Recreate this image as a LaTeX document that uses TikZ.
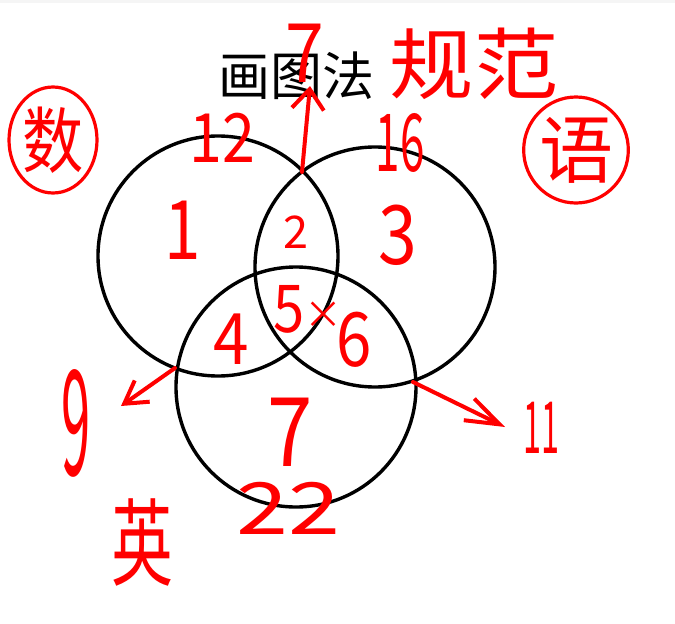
\documentclass[tikz,border=0pt]{standalone}
\usepackage{fontspec}
\usepackage{graphicx}
\setmainfont{Noto Sans CJK SC}
\usetikzlibrary{arrows.meta,shapes.geometric}
\newcommand\hwt[3]{\scalebox{#2}[1]{\fontsize{#1pt}{#1pt}\selectfont #3}}
\tikzset{
  setcircle/.style={circle, draw=black, line width=3.4pt, minimum size=240pt, inner sep=0pt},
  hw/.style={text=red, inner sep=0pt},
  redring/.style={ellipse, draw=red, line width=3.2pt, inner sep=0pt, text=red},
  redarrow/.style={draw=red, line width=4pt, line cap=round, line join=round},
}
\begin{document}
\begin{tikzpicture}[x=1pt, y=-1pt]
\useasboundingbox (0,0) rectangle (675,624);
\fill[gray!8] (0,0) rectangle (675,2.5);

% set circles
\node[setcircle] (L) at (218,256) {};
\node[setcircle] (R) at (375,267) {};
\node[setcircle] (B) at (296,387) {};

% title
\node[inner sep=0pt] (title) at (296,76) {\fontsize{52pt}{52pt}\selectfont 画图法};

% intersection points and arrow targets
\coordinate (iLR) at (302,172);
\coordinate (iLB) at (175,368);
\coordinate (iRB) at (413,382);
\coordinate (tTop) at (310,86);
\coordinate (tLeft) at (121,406);
\coordinate (tRight) at (505,427);

\draw[redarrow, -{Straight Barb[length=20pt,width=32pt]}] (iLR) -- (tTop);
\draw[redarrow, -{Straight Barb[length=22pt,width=26pt]}] (iLB) -- (tLeft);
\draw[redarrow, -{Straight Barb[length=34pt,width=24pt]}] (iRB) -- (tRight);

% set labels
\node[redring, minimum width=88pt, minimum height=106pt] (shu) at (53,140) {\hwt{72}{0.85}{数}};
\node[redring, minimum width=104pt, minimum height=106pt] (yu) at (576,150) {\hwt{74}{1}{语}};
\node[hw] (guifan) at (474,64) {\hwt{78}{1.08}{规范}};
\node[hw] (ying) at (142,542) {\hwt{95}{0.65}{英}};

% totals
\node[hw] (n12) at (222,138) {\hwt{68}{0.87}{12}};
\node[hw] (n16) at (400,143) {\hwt{80}{0.55}{16}};
\node[hw] (n22) at (288,508) {\hwt{72}{1.3}{22}};
\node[hw] (n7top) at (305,53) {\hwt{82}{0.85}{7}};
\node[hw] (n9) at (76,423) {\hwt{146}{0.36}{9}};
\node[hw] (n11) at (541,428) {\hwt{72}{0.45}{11}};

% regions
\node[hw] (r1) at (183,230) {\hwt{82}{0.8}{1}};
\node[hw] (r2) at (296,232) {\hwt{45}{1}{2}};
\node[hw] (r3) at (398,235) {\hwt{82}{0.85}{3}};
\node[hw] (r4) at (231,339) {\hwt{71}{0.9}{4}};
\node[hw] (r5) at (289,309) {\hwt{66}{0.85}{5}};
\node[hw] (rx) at (323,315) {\hwt{38}{1}{×}};
\node[hw] (r6) at (354,340) {\hwt{75}{0.85}{6}};
\node[hw] (r7) at (290,432) {\hwt{96}{0.85}{7}};
\end{tikzpicture}
\end{document}
